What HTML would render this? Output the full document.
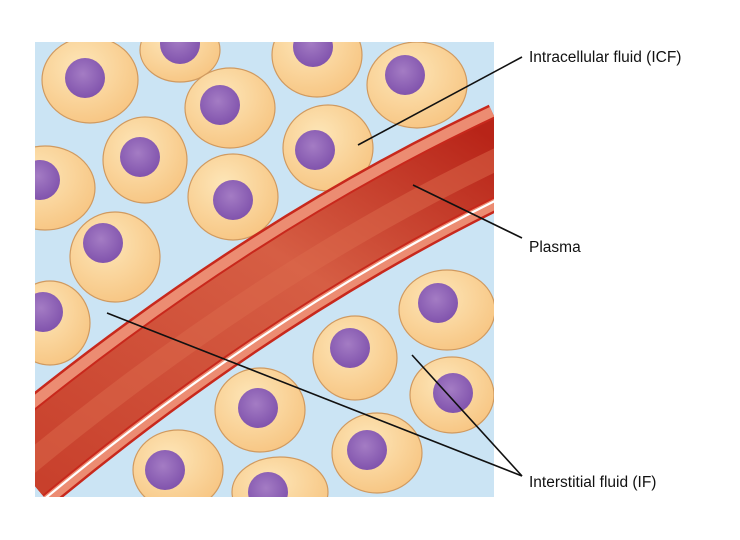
<!DOCTYPE html>
<html><head><meta charset="utf-8"><style>
html,body{margin:0;padding:0;background:#fff;width:740px;height:540px;overflow:hidden}
svg{display:block}
</style></head><body>
<svg width="740" height="540" viewBox="0 0 740 540" xmlns="http://www.w3.org/2000/svg">
<defs>
<clipPath id="c"><rect x="35" y="42" width="459" height="455"/></clipPath>
<radialGradient id="cell" cx="40%" cy="35%" r="70%">
<stop offset="0" stop-color="#fde6b8"/><stop offset="1" stop-color="#f7c582"/></radialGradient>
<radialGradient id="nuc" cx="45%" cy="40%" r="65%">
<stop offset="0" stop-color="#a47cc4"/><stop offset="1" stop-color="#7e50ab"/></radialGradient>
<linearGradient id="lum" x1="0" y1="1" x2="1" y2="0">
<stop offset="0" stop-color="#c8402c"/><stop offset="0.6" stop-color="#d65e44"/><stop offset="1" stop-color="#b82418"/></linearGradient>
</defs>
<g clip-path="url(#c)">
<rect x="35" y="42" width="459" height="455" fill="#cbe4f4"/>
<g stroke="#d09a60" stroke-width="1.2" fill="url(#cell)">
<ellipse cx="90" cy="80" rx="48" ry="43"/>
<ellipse cx="180" cy="50" rx="40" ry="32"/>
<ellipse cx="317" cy="55" rx="45" ry="42"/>
<ellipse cx="417" cy="85" rx="50" ry="43"/>
<ellipse cx="230" cy="108" rx="45" ry="40"/>
<ellipse cx="145" cy="160" rx="42" ry="43"/>
<ellipse cx="328" cy="148" rx="45" ry="43"/>
<ellipse cx="45" cy="188" rx="50" ry="42"/>
<ellipse cx="233" cy="197" rx="45" ry="43"/>
<ellipse cx="115" cy="257" rx="45" ry="45"/>
<ellipse cx="50" cy="323" rx="40" ry="42"/>
<ellipse cx="447" cy="310" rx="48" ry="40"/>
<ellipse cx="355" cy="358" rx="42" ry="42"/>
<ellipse cx="452" cy="395" rx="42" ry="38"/>
<ellipse cx="260" cy="410" rx="45" ry="42"/>
<ellipse cx="377" cy="453" rx="45" ry="40"/>
<ellipse cx="178" cy="470" rx="45" ry="40"/>
<ellipse cx="280" cy="492" rx="48" ry="35"/>
</g>
<g fill="url(#nuc)">
<circle cx="85" cy="78" r="20"/><circle cx="180" cy="44" r="20"/><circle cx="313" cy="47" r="20"/>
<circle cx="405" cy="75" r="20"/><circle cx="220" cy="105" r="20"/><circle cx="140" cy="157" r="20"/>
<circle cx="315" cy="150" r="20"/><circle cx="40" cy="180" r="20"/><circle cx="233" cy="200" r="20"/>
<circle cx="103" cy="243" r="20"/><circle cx="43" cy="312" r="20"/><circle cx="438" cy="303" r="20"/>
<circle cx="350" cy="348" r="20"/><circle cx="453" cy="393" r="20"/><circle cx="258" cy="408" r="20"/>
<circle cx="367" cy="450" r="20"/><circle cx="165" cy="470" r="20"/><circle cx="268" cy="492" r="20"/>
</g>
<g fill="none">
<path d="M20,468 Q265,265 510,150" stroke="#c8281c" stroke-width="100"/>
<path d="M20,468 Q265,265 510,150" stroke="#ec8c72" stroke-width="95"/>
<path d="M42,501 Q287,298 532,183" stroke="#fff" stroke-width="2.2"/>
<path d="M20,468 Q265,265 510,150" stroke="#c8281c" stroke-width="74"/>
<path d="M20,468 Q265,265 510,150" stroke="url(#lum)" stroke-width="70"/>
<path d="M20,471 Q265,268 510,153" stroke="#dc6a4c" stroke-width="22" opacity="0.5"/>
</g>
</g>
<g stroke="#111" stroke-width="1.6" fill="none">
<line x1="358" y1="145" x2="522" y2="57"/>
<line x1="413" y1="185" x2="522" y2="238"/>
<line x1="107" y1="313" x2="522" y2="476"/>
<line x1="412" y1="355" x2="522" y2="476"/>
</g>
<g font-family="Liberation Sans, sans-serif" font-size="15.5" fill="#111">
<text x="529" y="62">Intracellular fluid (ICF)</text>
<text x="529" y="252">Plasma</text>
<text x="529" y="487">Interstitial fluid (IF)</text>
</g>
</svg>
</body></html>
